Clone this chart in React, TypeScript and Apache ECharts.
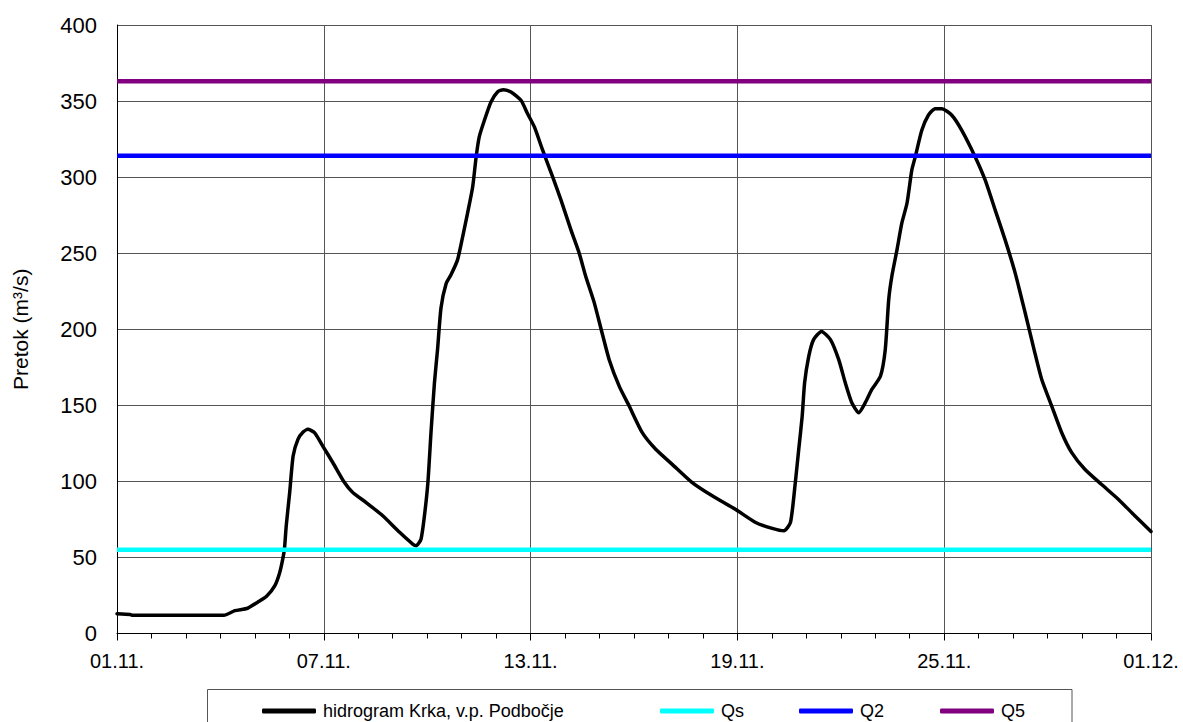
import React, { useEffect, useRef } from "react";
import * as echarts from "echarts";

// Day offsets from 01.11. (0 = 01.11., 30 = 01.12.)
const days: number[] = [
  0, 0.38, 0.45, 3.1, 3.42, 3.79, 4.08, 4.34, 4.58, 4.72, 4.81, 4.86, 4.91, 5.01, 5.11, 5.25, 5.4, 5.54,
  5.73, 5.97, 6.26, 6.6, 6.84, 7.23, 7.71, 8.2, 8.58, 8.68, 8.82, 8.92, 9.02, 9.11, 9.21, 9.3, 9.4,
  9.55, 9.69, 9.88, 10.03, 10.17, 10.32, 10.42, 10.51, 10.66, 10.85, 11.04, 11.21, 11.43, 11.72,
  11.91, 12.11, 12.35, 12.64, 12.88, 13.17, 13.41, 13.6, 13.84, 14.05, 14.28, 14.57, 14.86, 15.24,
  15.63, 16.11, 16.69, 17.27, 17.94, 18.53, 19.01, 19.35, 19.54, 19.68, 19.78, 19.88, 19.95, 20.07,
  20.21, 20.44, 20.7, 20.94, 21.13, 21.32, 21.52, 21.71, 21.9, 22.15, 22.29, 22.39, 22.48, 22.63,
  22.77, 22.92, 23.06, 23.16, 23.35, 23.54, 23.74, 23.93, 24.22, 24.51, 24.9, 25.19, 25.48, 25.77,
  26.06, 26.35, 26.63, 26.83, 27.12, 27.41, 27.7, 28.08, 28.56, 29.05, 29.53, 30,
];

// Discharge of hidrogram Krka, v.p. Podbočje (m3/s)
const flow: number[] = [
  13, 12.5, 12, 12, 15, 16.6, 20.6, 24.5, 31.5, 40, 49, 56, 70.8, 92.7, 116.7, 127.6, 132.4, 134.2,
  132, 123.2, 112.4, 99.2, 92.7, 86.1, 77.4, 66.5, 58.8, 57.7, 62, 77.4, 99.2, 132, 164.8, 186.6, 214,
  230, 235.8, 245.6, 260.9, 276.2, 293.7, 313.3, 326.5, 337.4, 349.4, 356, 357.5, 356, 350.5,
  341.8, 333, 317.7, 300.2, 285, 265.3, 250, 234.7, 218, 199.7, 180, 162.6, 149.5, 132,
  121.1, 111.2, 99.2, 90.5, 81.7, 73, 69.1, 67.5, 73, 99.2, 121.1, 142.9, 164.8, 182.2,
  193.2, 198.6, 193.2, 180, 164.8, 151.7, 145.1, 151.7, 160.4, 169.1, 186.6, 219.4, 234.7, 252.2,
  269.7, 282.8, 304.6, 313.3, 330.8, 340.7, 345, 345, 340.7, 330.8, 313.3, 298, 278.3, 258.6,
  236.9, 210.7, 184.5, 167, 149.5, 132, 118.9, 108, 98.1, 88.3, 77.4, 67,
];

const seriesNames: string[] = ["hidrogram Krka, v.p. Podbočje", "Qs", "Q2", "Q5"];
const thresholds: number[] = [55, 314, 363]; // Qs, Q2, Q5
const thresholdColors: string[] = ["#00FFFF", "#0000FF", "#800080"];
const xTickLabels: string[] = ["01.11.", "07.11.", "13.11.", "19.11.", "25.11.", "01.12."];
const xRange: number[] = [0, 30];
const legendLefts: number[] = [262, 660, 799, 940];

const FONT = "'Liberation Sans', Arial, sans-serif";

export default function App() {
  const ref = useRef<HTMLDivElement>(null);

  useEffect(() => {
    if (!ref.current) return;
    const chart = echarts.init(ref.current, undefined, { renderer: "svg" });

    const hydro = days.map((d, i) => [d, flow[i]]);
    const qSeries = thresholds.map((q, i) => ({
      name: seriesNames[i + 1],
      type: "line" as const,
      data: xRange.map((x) => [x, q]),
      symbol: "none",
      lineStyle: { color: thresholdColors[i], width: 4.5 },
      itemStyle: { color: thresholdColors[i] },
      z: 3 + i,
    }));

    chart.setOption({
      animation: false,
      backgroundColor: "#ffffff",
      textStyle: { fontFamily: FONT },
      grid: { left: 117, right: 32, top: 25, bottom: 88.5, containLabel: false },
      xAxis: {
        type: "value",
        min: 0,
        max: 30,
        interval: 6,
        axisLine: { show: true, lineStyle: { color: "#000", width: 1 } },
        axisTick: { show: true, length: 7, lineStyle: { color: "#000" } },
        minorTick: { show: true, splitNumber: 6, length: 5, lineStyle: { color: "#000" } },
        splitLine: { show: true, lineStyle: { color: "#555", width: 1 } },
        axisLabel: {
          fontFamily: FONT,
          fontSize: 20,
          color: "#000",
          margin: 17,
          formatter: (v: number) => xTickLabels[Math.round(v / 6)] ?? "",
        },
      },
      yAxis: {
        type: "value",
        min: 0,
        max: 400,
        interval: 50,
        name: "Pretok (m³/s)",
        nameLocation: "middle",
        nameGap: 86,
        nameTextStyle: { fontFamily: FONT, fontSize: 21, color: "#000" },
        axisLine: { show: true, lineStyle: { color: "#000", width: 1 } },
        axisTick: { show: false },
        splitLine: { show: true, lineStyle: { color: "#555", width: 1 } },
        axisLabel: { fontFamily: FONT, fontSize: 22, color: "#000", margin: 20 },
      },
      legend: seriesNames.map((n, i) => ({
        data: [n],
        left: legendLefts[i],
        top: 702,
        icon: "roundRect",
        itemWidth: 54,
        itemHeight: 5,
        itemGap: 0,
        padding: 0,
        selectedMode: false,
        textStyle: { fontFamily: FONT, fontSize: 18, color: "#000", padding: [0, 0, 0, 2] },
      })),
      graphic: [
        {
          type: "rect",
          shape: { x: 207.5, y: 689.5, width: 864.5, height: 50 },
          style: { fill: "none", stroke: "#555", lineWidth: 1 },
          silent: true,
        },
      ],
      series: [
        {
          name: seriesNames[0],
          type: "line",
          data: hydro,
          symbol: "none",
          smooth: 0.2,
          lineStyle: { color: "#000", width: 3.5, join: "round", cap: "round" },
          itemStyle: { color: "#000" },
          z: 2,
        },
        ...qSeries,
      ],
    });

    return () => chart.dispose();
  }, []);

  return (
    <div
      ref={ref}
      style={{ position: "fixed", left: 0, top: 0, width: 1183, height: 722, background: "#fff" }}
    />
  );
}
